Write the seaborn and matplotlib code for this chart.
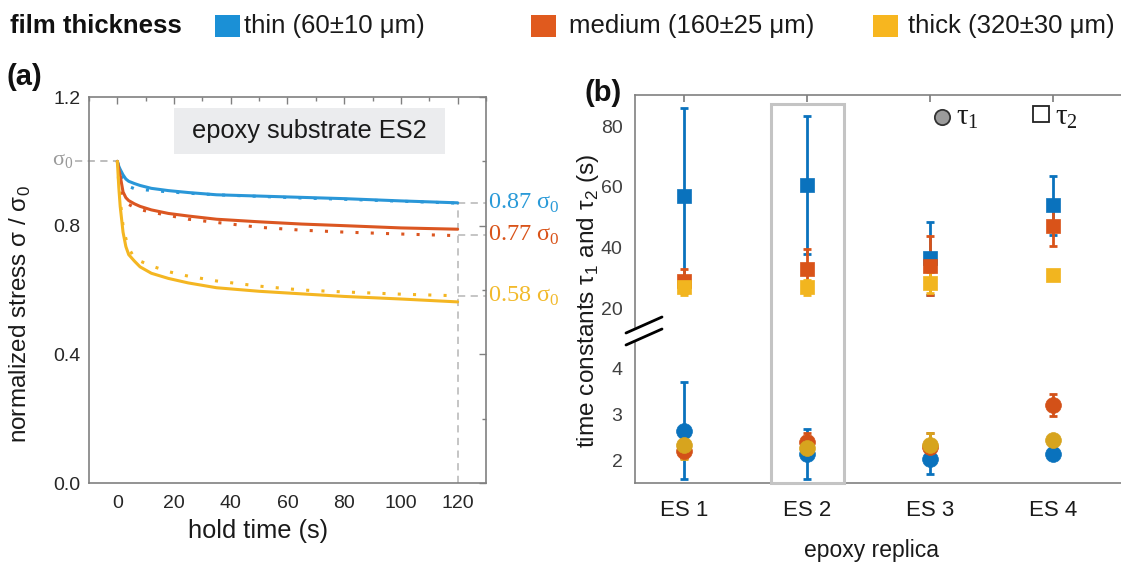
import numpy as np
import pandas as pd
import matplotlib
matplotlib.use("Agg")
import matplotlib.pyplot as plt
import seaborn as sns
from matplotlib.lines import Line2D
from matplotlib.patches import Rectangle
from matplotlib.ticker import MultipleLocator, FixedLocator
import matplotlib.transforms as mtransforms

# ---------------- data: panel (a) stress relaxation ----------------
t_hold = [0, 0.5, 1, 2, 3, 4, 6, 8, 12, 18, 25, 35, 50, 65, 80, 100, 120]
thin_meas = [1.0, 0.985, 0.975, 0.958, 0.945, 0.938, 0.931, 0.925, 0.916, 0.909, 0.903, 0.896, 0.892, 0.888, 0.884, 0.877, 0.871]
thin_fit = [1.0, 0.975, 0.96, 0.945, 0.932, 0.922, 0.915, 0.912, 0.910, 0.905, 0.901, 0.896, 0.891, 0.886, 0.882, 0.876, 0.870]
medium_meas = [1.0, 0.975, 0.955, 0.905, 0.887, 0.878, 0.868, 0.860, 0.849, 0.838, 0.830, 0.820, 0.812, 0.805, 0.800, 0.793, 0.789]
medium_fit = [1.0, 0.96, 0.93, 0.89, 0.875, 0.866, 0.857, 0.850, 0.842, 0.832, 0.820, 0.810, 0.795, 0.786, 0.780, 0.774, 0.769]
thick_meas = [1.0, 0.92, 0.86, 0.78, 0.735, 0.71, 0.69, 0.672, 0.652, 0.636, 0.622, 0.607, 0.596, 0.588, 0.580, 0.572, 0.563]
thick_fit = [1.0, 0.93, 0.88, 0.80, 0.76, 0.73, 0.70, 0.69, 0.675, 0.657, 0.643, 0.628, 0.612, 0.600, 0.594, 0.587, 0.582]
final_ratio = [0.87, 0.77, 0.58]
final_labels = ["0.87", "0.77", "0.58"]

# ---------------- data: panel (b) time constants ----------------
replicas = ["ES 1", "ES 2", "ES 3", "ES 4"]
tau2_thin = [57, 60.5, 36.5, 54]
tau2_thin_err = [29, 22.7, 12, 9.7]
tau2_medium = [29, 33, 34, 47]
tau2_medium_err = [4, 6.5, 9.7, 6.6]
tau2_thick = [27, 27, 28.5, 31]
tau2_thick_err = [2.5, 2.5, 3.5, 1.0]
tau1_thin = [2.65, 2.15, 2.05, 2.15]
tau1_thin_err = [1.05, 0.55, 0.33, 0.12]
tau1_medium = [2.22, 2.40, 2.30, 3.22]
tau1_medium_err = [0.15, 0.2, 0.3, 0.24]
tau1_thick = [2.35, 2.27, 2.35, 2.45]
tau1_thick_err = [0.3, 0.15, 0.25, 0.1]

legend_labels = ["thin (60±10 μm)", "medium (160±25 μm)", "thick (320±30 μm)"]

# ---------------- style ----------------
sns.set_theme(style="white")
plt.rcParams["font.family"] = ["Liberation Sans", "DejaVu Sans"]
plt.rcParams["mathtext.fontset"] = "custom"
plt.rcParams["mathtext.rm"] = "Liberation Serif"
plt.rcParams["mathtext.sf"] = "Liberation Sans"

W, H = 1121, 564
fig = plt.figure(figsize=(W / 100, H / 100), dpi=100)

def fx(px):
    return px / W

def fy(py):
    return 1 - py / H

line_cols = ["#2a97d8", "#db5621", "#f4b622"]
note_cols = ["#2a9ad8", "#d95319", "#f2ba2c"]
mark_cols = ["#0a72bd", "#d95319", "#f2b51f"]
circ_cols = ["#0a72bd", "#d35118", "#d7a41e"]
legend_cols = ["#1b90d6", "#e05a1e", "#f7b61f"]
spine_col = "#808080"
serif = ["Liberation Serif", "DejaVu Serif"]

# ---------------- panel (a) ----------------
ax1 = fig.add_axes([fx(89), fy(483), fx(397), 386 / H])
for meas, fit, c in zip([thin_meas, medium_meas, thick_meas], [thin_fit, medium_fit, thick_fit], line_cols):
    sns.lineplot(x=t_hold, y=meas, ax=ax1, color=c, lw=2.2, sort=False)
    sns.lineplot(x=t_hold, y=fit, ax=ax1, color=c, lw=2.2, sort=False, linestyle=(0, (1, 4)))
ax1.set_xlim(-10, 130)
ax1.set_ylim(0, 1.2)
ax1.xaxis.set_major_locator(MultipleLocator(20))
ax1.xaxis.set_minor_locator(MultipleLocator(10))
ax1.yaxis.set_major_locator(MultipleLocator(0.4))
ax1.yaxis.set_minor_locator(MultipleLocator(0.2))
ax1.yaxis.set_major_formatter(matplotlib.ticker.FormatStrFormatter("%.1f"))
ax1.tick_params(which="both", direction="in", top=True, right=True, color=spine_col,
                labelsize=14, labelcolor="#262626")
ax1.tick_params(which="major", length=5, width=1)
ax1.tick_params(which="minor", length=3, width=1)
ax1.tick_params(axis="x", pad=9)
ax1.tick_params(axis="y", pad=6)
for s in ax1.spines.values():
    s.set_color(spine_col)
    s.set_linewidth(1.2)
ax1.set_xlabel("")
ax1.set_ylabel("")

# title box
ax1.add_patch(Rectangle((19.8, 1.023), 95.6, 0.143, facecolor="#ebecee", edgecolor="none", zorder=1))
ax1.text(67.6, 1.094, "epoxy substrate ES2", ha="center", va="center", fontsize=18.3, color="#1a1a1a", zorder=2)

# sigma_0 reference
ax1.plot([-15, 0], [1.0, 1.0], ls=(0, (4, 3)), color="#b8b8b8", lw=1.3, clip_on=False, zorder=0)
ax1.text(-15.6, 1.0, r"σ$_\mathrm{0}$", ha="right", va="center", color="#9a9a9a", fontsize=16, family=serif)

# final values
ax1.plot([120, 120], [0, 0.87], ls=(0, (4, 3)), color="#c0c0c0", lw=1.3, zorder=0)
btrans = mtransforms.blended_transform_factory(ax1.transAxes, ax1.transData)
for v, lab, c in zip(final_ratio, final_labels, note_cols):
    ax1.plot([120, 130], [v, v], ls=(0, (4, 3)), color="#c0c0c0", lw=1.3, zorder=0)
    ax1.text(1.004, v, lab + r" σ$_\mathrm{0}$", transform=btrans, ha="left", va="center",
             color=c, fontsize=17.5, family=serif)

fig.text(fx(258), fy(531), "hold time (s)", ha="center", va="center", fontsize=18.3, color="#1a1a1a")
fig.text(fx(20), fy(314), r"normalized stress σ / σ$_\mathsf{0}$", ha="center", va="center",
         rotation=90, fontsize=17.5, color="#1a1a1a")
fig.text(fx(7), fy(77), "(a)", ha="left", va="center", fontsize=21, weight="bold", color="#111111")

# ---------------- panel (b) ----------------
xpos = [1, 2, 3, 4]
axT = fig.add_axes([fx(635), fy(327), fx(490), 232 / H])
axB = fig.add_axes([fx(635), fy(483), fx(490), 142 / H])

def draw(ax, vals, errs, col, marker, size):
    ax.errorbar(xpos, vals, yerr=errs, fmt="none", ecolor=col, elinewidth=2, capsize=3, capthick=2, zorder=2)
    sns.scatterplot(x=xpos, y=vals, ax=ax, color=col, marker=marker, s=size, edgecolor=col, linewidth=0.5, zorder=3)

for vals, errs, c in zip([tau2_thin, tau2_medium, tau2_thick],
                         [tau2_thin_err, tau2_medium_err, tau2_thick_err], mark_cols):
    draw(axT, vals, errs, c, "s", 95)
for vals, errs, c in zip([tau1_thin, tau1_medium, tau1_thick],
                         [tau1_thin_err, tau1_medium_err, tau1_thick_err], circ_cols):
    draw(axB, vals, errs, c, "o", 130)

for ax in (axT, axB):
    ax.set_xlim(0.6, 0.6 + 490 / 123)
    ax.set_xlabel("")
    ax.set_ylabel("")
    for s in ax.spines.values():
        s.set_color(spine_col)
        s.set_linewidth(1.2)
    ax.tick_params(which="both", direction="in", color=spine_col, labelsize=14, labelcolor="#404040",
                   length=5, pad=9)
axT.set_ylim(13.9, 90.2)
axT.yaxis.set_major_locator(FixedLocator([20, 40, 60, 80]))
axT.set_xticks(xpos)
axT.tick_params(axis="x", top=True, bottom=False, labelbottom=False)
axT.spines["bottom"].set_visible(False)
axT.spines["right"].set_visible(False)

axB.set_ylim(1.52, 4.6)
axB.yaxis.set_major_locator(FixedLocator([2, 3, 4]))
axB.set_xticks(xpos)
axB.set_xticklabels(replicas)
axB.tick_params(axis="x", labelsize=16, labelcolor="#1a1a1a", pad=12)
axB.spines["top"].set_visible(False)
axB.spines["right"].set_visible(False)

# ES2 highlight
hl = mtransforms.blended_transform_factory(axB.transData, fig.transFigure)
fig.add_artist(Rectangle((1.707, fy(483)), 0.593, (483 - 104) / H, transform=hl,
                         facecolor="none", edgecolor="#c4c4c4", lw=2.2, zorder=5))

# axis break marks
for y0, y1 in [(333, 317), (345, 329)]:
    fig.add_artist(Line2D([fx(626), fx(662)], [fy(y0), fy(y1)], color="black", lw=2, transform=fig.transFigure))

# tau legend
fig.add_artist(Line2D([fx(942)], [fy(117)], marker="o", ms=11, mfc="#9b9b9b", mec="#333333", mew=1.3,
                      ls="none", transform=fig.transFigure))
fig.text(fx(956), fy(118), r"τ$_\mathrm{1}$", ha="left", va="center", fontsize=21, family=serif, color="#1a1a1a")
fig.add_artist(Line2D([fx(1041)], [fy(114)], marker="s", ms=11, mfc="white", mec="#222222", mew=1.3,
                      ls="none", transform=fig.transFigure))
fig.text(fx(1055), fy(118), r"τ$_\mathrm{2}$", ha="left", va="center", fontsize=21, family=serif, color="#1a1a1a")

fig.text(fx(871), fy(551), "epoxy replica", ha="center", va="center", fontsize=16.5, color="#1a1a1a")
fig.text(fx(588), fy(301), r"time constants τ$_\mathsf{1}$ and τ$_\mathsf{2}$ (s)", ha="center", va="center",
         rotation=90, fontsize=17.6, color="#1a1a1a")
fig.text(fx(585), fy(93), "(b)", ha="left", va="center", fontsize=21, weight="bold", color="#111111")

# ---------------- top legend ----------------
fig.text(fx(10), fy(26), "film thickness", ha="left", va="center", fontsize=18.5, weight="bold", color="#111111")
for xs, xt, lab, c in zip([215, 531, 873], [244, 569, 908], legend_labels, legend_cols):
    fig.add_artist(Rectangle((fx(xs), fy(37)), fx(25), 22 / H, facecolor=c, edgecolor="none", transform=fig.transFigure))
    fig.text(fx(xt), fy(26), lab, ha="left", va="center", fontsize=18.5, color="#1a1a1a")

fig.savefig("out.png", dpi=100, facecolor="white")
